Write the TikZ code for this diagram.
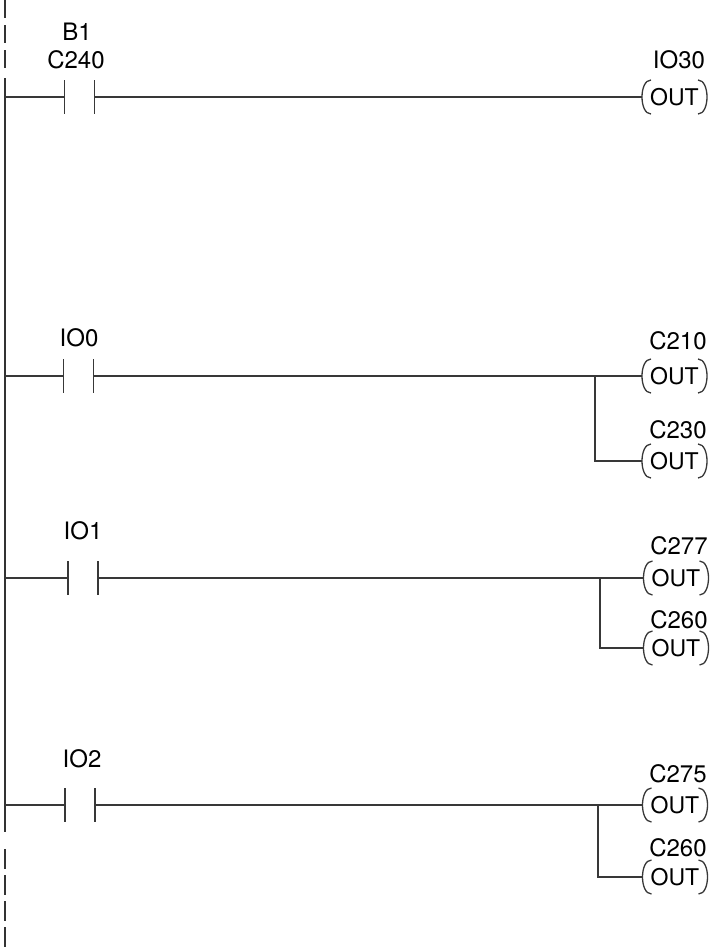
\documentclass[tikz,border=0pt]{standalone}
\usepackage{fontspec}
\setmainfont{TeX Gyre Heros}
\begin{document}
\begin{tikzpicture}[x=1pt,y=-1pt,
  wire/.style={draw=black!78, line width=1.3pt},
  railline/.style={draw=black!80, line width=1.8pt},
  contact/.style={minimum width=30pt, minimum height=34pt, inner sep=0pt, outer sep=0pt},
  coil/.style={font=\fontsize{23}{26}\selectfont, minimum width=65pt, minimum height=34pt, inner sep=0pt, outer sep=0pt},
  lbl/.style={font=\fontsize{24}{28}\selectfont, inner sep=0pt}]
\useasboundingbox (0,0) rectangle (711,951);
\newcommand\coilarcs[1]{%
  \draw[wire] ([xshift=9pt]#1.north west) .. controls ([xshift=-3pt]#1.north west) and ([xshift=-3pt]#1.south west) .. ([xshift=9pt]#1.south west);
  \draw[wire] ([xshift=-9pt]#1.north east) .. controls ([xshift=3pt]#1.north east) and ([xshift=3pt]#1.south east) .. ([xshift=-9pt]#1.south east);}
\newcommand\contactplates[1]{%
  \draw[wire] (#1.north west) -- (#1.south west) (#1.north east) -- (#1.south east);}

% left rail
\coordinate (rt) at (5,0);
\coordinate (ra) at (5,70);
\coordinate (rb) at (5,78);
\coordinate (rc) at (5,832);
\coordinate (rd) at (5,849);
\coordinate (re) at (5,951);
\draw[railline, dash pattern=on 18pt off 7pt] (rt) -- (ra);
\draw[railline] (rb) -- (rc);
\draw[railline, dash pattern=on 20pt off 6pt] (rd) -- (re);

% rung 1
\coordinate (r1) at (5,97);
\node[contact] (k1) at (79.5,97) {};
\node[coil] (q1) at (674.5,97) {OUT};
\node[lbl] (l1a) at (77,32) {B1};
\node[lbl] (l1b) at (76,60) {C240};
\node[lbl] (l1q) at (679,60) {IO30};
\contactplates{k1}
\coilarcs{q1}
\draw[wire] (r1) -- (k1.west);
\draw[wire] (k1.east) -- (q1.west);

% rung 2
\coordinate (r2) at (5,376);
\coordinate (b2) at (595,376);
\node[contact] (k2) at (78.5,376) {};
\node[coil] (q2a) at (674.5,376) {OUT};
\node[coil] (q2b) at (674.5,461) {OUT};
\node[lbl] (l2) at (79,338) {IO0};
\node[lbl] (l2a) at (678,341) {C210};
\node[lbl] (l2b) at (678,430) {C230};
\contactplates{k2}
\coilarcs{q2a}
\coilarcs{q2b}
\draw[wire] (r2) -- (k2.west);
\draw[wire] (k2.east) -- (q2a.west);
\draw[wire] (b2) |- (q2b.west);

% rung 3
\coordinate (r3) at (5,578);
\coordinate (b3) at (600,578);
\node[contact] (k3) at (83,578) {};
\node[coil] (q3a) at (676,578) {OUT};
\node[coil] (q3b) at (676,648) {OUT};
\node[lbl] (l3) at (83,531) {IO1};
\node[lbl] (l3a) at (679,546) {C277};
\node[lbl] (l3b) at (679,620) {C260};
\contactplates{k3}
\coilarcs{q3a}
\coilarcs{q3b}
\draw[wire] (r3) -- (k3.west);
\draw[wire] (k3.east) -- (q3a.west);
\draw[wire] (b3) |- (q3b.west);

% rung 4
\coordinate (r4) at (5,805);
\coordinate (b4) at (598,805);
\node[contact] (k4) at (80,805) {};
\node[coil] (q4a) at (675,805) {OUT};
\node[coil] (q4b) at (675,877) {OUT};
\node[lbl] (l4) at (82,759) {IO2};
\node[lbl] (l4a) at (678,774) {C275};
\node[lbl] (l4b) at (678,848) {C260};
\contactplates{k4}
\coilarcs{q4a}
\coilarcs{q4b}
\draw[wire] (r4) -- (k4.west);
\draw[wire] (k4.east) -- (q4a.west);
\draw[wire] (b4) |- (q4b.west);
\end{tikzpicture}
\end{document}
